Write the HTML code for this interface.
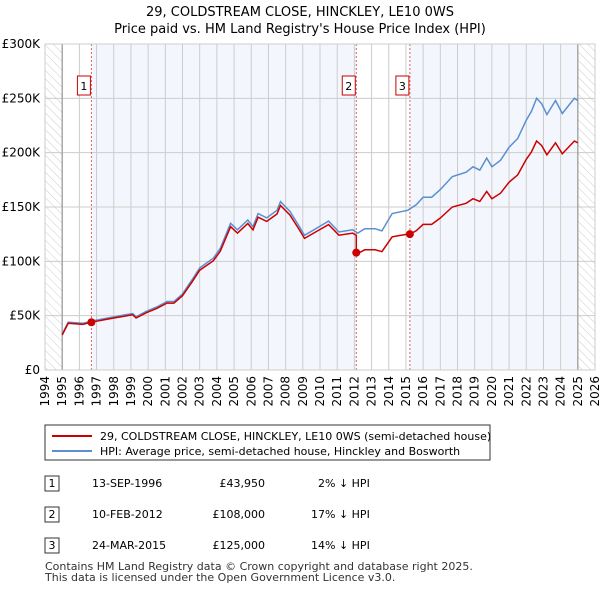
<!DOCTYPE html>
<html><head><meta charset="utf-8"><style>
body{margin:0;background:#fff;font-family:"Liberation Sans","DejaVu Sans",sans-serif;}
svg text{font-family:"DejaVu Sans","Liberation Sans",sans-serif;}
</style></head><body>
<svg id="c" width="600" height="590" xmlns="http://www.w3.org/2000/svg">
<defs><pattern id="hatch" width="6" height="6" patternUnits="userSpaceOnUse" patternTransform="rotate(-45)"><line x1="0" y1="0" x2="0" y2="6" stroke="#ccc" stroke-width="1"/></pattern></defs>
<text x="300" y="16" font-size="13" text-anchor="middle">29, COLDSTREAM CLOSE, HINCKLEY, LE10 0WS</text>
<text x="300" y="33" font-size="13" text-anchor="middle">Price paid vs. HM Land Registry's House Price Index (HPI)</text>
<g id="plot"></g>
<g>
<rect x="45" y="425" width="445" height="35" fill="#fff" stroke="#333"/>
<line x1="52" y1="436" x2="92" y2="436" stroke="#cc0000" stroke-width="2"/>
<text x="100" y="440" font-size="11">29, COLDSTREAM CLOSE, HINCKLEY, LE10 0WS (semi-detached house)</text>
<line x1="52" y1="451" x2="92" y2="451" stroke="#5b8fd0" stroke-width="2"/>
<text x="100" y="455" font-size="11">HPI: Average price, semi-detached house, Hinckley and Bosworth</text>
</g>
<g font-size="11">
<rect x="45" y="476" width="14" height="15" fill="#fff" stroke="#333"/><text x="52" y="487" text-anchor="middle">1</text>
<text x="92" y="487">13-SEP-1996</text><text x="265" y="487" text-anchor="end">£43,950</text><text x="318" y="487">2% ↓ HPI</text>
<rect x="45" y="507" width="14" height="15" fill="#fff" stroke="#333"/><text x="52" y="518" text-anchor="middle">2</text>
<text x="92" y="518">10-FEB-2012</text><text x="265" y="518" text-anchor="end">£108,000</text><text x="311" y="518">17% ↓ HPI</text>
<rect x="45" y="538" width="14" height="15" fill="#fff" stroke="#333"/><text x="52" y="549" text-anchor="middle">3</text>
<text x="92" y="549">24-MAR-2015</text><text x="265" y="549" text-anchor="end">£125,000</text><text x="311" y="549">14% ↓ HPI</text>
</g>
<text x="45" y="570" font-size="11" fill="#333">Contains HM Land Registry data © Crown copyright and database right 2025.</text>
<text x="45" y="581" font-size="11" fill="#333">This data is licensed under the Open Government Licence v3.0.</text>
</svg>
<script>
const hpiYears=[1995.0,1995.35,1996.2,1996.7,1998.0,1999.1,1999.3,1999.9,2000.5,2001.1,2001.5,2002.0,2002.6,2003.0,2003.8,2004.2,2004.8,2005.2,2005.8,2006.1,2006.4,2006.9,2007.5,2007.7,2008.25,2008.8,2009.1,2009.96,2010.5,2011.1,2011.9,2012.2,2012.6,2013.2,2013.6,2014.2,2015.1,2015.6,2016.0,2016.5,2017.0,2017.7,2018.5,2018.9,2019.3,2019.7,2020.0,2020.5,2021.0,2021.5,2022.0,2022.3,2022.6,2022.9,2023.2,2023.7,2024.1,2024.8,2025.0];
const hpiValues=[33000,44000,43000,45000,49000,52000,49000,54000,58000,63000,63000,70000,84000,94000,103000,112000,135000,129000,138000,132000,144000,140000,147000,155000,146000,132000,124000,132000,137000,127000,129000,126000,130000,130000,128000,144000,147000,152000,159000,159000,166000,178000,182000,187000,184000,195000,187000,193000,205000,213000,230000,238000,250000,245000,235000,248000,236000,250000,248000];
const saleYears=[1996.7,2012.11,2015.23];
const salePrices=[43950,108000,125000];
const saleLabels=["1","2","3"];
const yTicks=[0,50000,100000,150000,200000,250000,300000];
const yTickLabels=["£0","£50K","£100K","£150K","£200K","£250K","£300K"];
const xTicks=[1994,1995,1996,1997,1998,1999,2000,2001,2002,2003,2004,2005,2006,2007,2008,2009,2010,2011,2012,2013,2014,2015,2016,2017,2018,2019,2020,2021,2022,2023,2024,2025,2026];
const L=45,R=595,T=44,B=370;
const X=y=>L+(y-1994)/32*(R-L);
const Y=v=>B-v/300000*(B-T);
const NS="http://www.w3.org/2000/svg";
const g=document.getElementById('plot');
function mk(tag,a,p){const e=document.createElementNS(NS,tag);for(const k in a)e.setAttribute(k,a[k]);(p||g).appendChild(e);return e;}
function hpiAt(t){for(let i=0;i<hpiYears.length-1;i++){if(t<=hpiYears[i+1]){const f=(t-hpiYears[i])/(hpiYears[i+1]-hpiYears[i]);return hpiValues[i]+f*(hpiValues[i+1]-hpiValues[i]);}}return hpiValues[hpiValues.length-1];}
let r=mk('rect',{x:L,y:T,width:R-L,height:B-T,fill:'#fff'});


const bands=[[saleYears[0],saleYears[1]],[saleYears[2],2025.0]];
bands.forEach(b=>{const e=mk('rect',{x:X(b[0]),y:T,width:X(b[1])-X(b[0]),height:B-T,fill:'#eef3fc',opacity:0.7});

});
[[1994,1995],[2025,2026]].forEach(b=>{const e=mk('rect',{x:X(b[0]),y:T,width:X(b[1])-X(b[0]),height:B-T,fill:'url(#hatch)'});

});
xTicks.forEach(t=>{const e=mk('line',{x1:X(t),x2:X(t),y1:T,y2:B,stroke:'#ccc','stroke-width':1});


const tx=mk('text',{x:0,y:0,'font-size':12,'text-anchor':'end',transform:`translate(${X(t)+4},${B+6}) rotate(-90)`});
tx.textContent=t;

});
yTicks.forEach((v,i)=>{const e=mk('line',{x1:L,x2:R,y1:Y(v),y2:Y(v),stroke:'#ccc','stroke-width':1});


const tx=mk('text',{x:L-5,y:Y(v)+4,'font-size':12,'text-anchor':'end'});
tx.textContent=yTickLabels[i];

});
[1995,2025].forEach(t=>{const e=mk('line',{x1:X(t),x2:X(t),y1:T,y2:B,stroke:'#999','stroke-width':1.2});

});
saleYears.forEach((s,i)=>{const e=mk('line',{x1:X(s),x2:X(s),y1:T,y2:B,stroke:'#e06060','stroke-width':1,'stroke-dasharray':'2,2'});


const bx=mk('rect',{x:X(s)-14,y:T+32,width:13,height:19,fill:'#fff',stroke:'#cc0000'});


const tx=mk('text',{x:X(s)-7.5,y:T+46,'font-size':11,'text-anchor':'middle'});
tx.textContent=saleLabels[i];

});
const hp=mk('path',{d:hpiYears.map((t,i)=>(i?'L':'M')+X(t).toFixed(1)+','+Y(hpiValues[i]).toFixed(1)).join(''),fill:'none',stroke:'#5b8fd0','stroke-width':1.5});


const ratios=saleYears.map((s,i)=>salePrices[i]/hpiAt(s));
function ratioAt(t){let k=0;for(let i=0;i<saleYears.length;i++)if(t>=saleYears[i])k=i;return ratios[k];}
let pts=[];
hpiYears.forEach((t,i)=>{
 saleYears.forEach((s,j)=>{if(j>0&&s>hpiYears[i-1]&&s<=t){pts.push([s,hpiAt(s)*ratios[j-1]]);pts.push([s,salePrices[j]]);}});
 pts.push([t,hpiValues[i]*ratioAt(t)]);});
const pp=mk('path',{d:pts.map((p,i)=>(i?'L':'M')+X(p[0]).toFixed(1)+','+Y(p[1]).toFixed(1)).join(''),fill:'none',stroke:'#cc0000','stroke-width':1.5});


saleYears.forEach((s,i)=>{const c=mk('circle',{cx:X(s),cy:Y(salePrices[i]),r:4,fill:'#cc0000'});

});
const fr=mk('rect',{x:L,y:T,width:R-L,height:B-T,fill:'none',stroke:'#ccc'});


</script>
</body></html>
